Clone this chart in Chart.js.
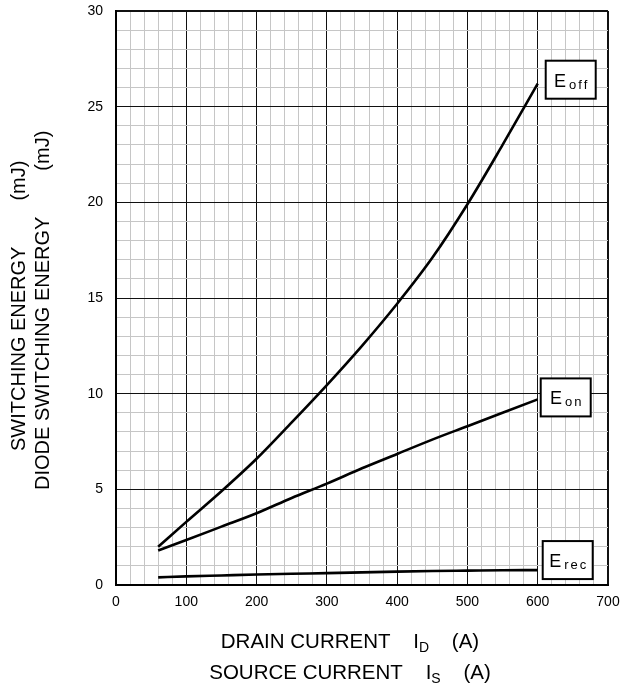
<!DOCTYPE html>
<html>
<head>
<meta charset="utf-8">
<script src="https://cdn.jsdelivr.net/npm/chart.js@4.4.1/dist/chart.umd.min.js"></script>
<style>
  html, body { margin: 0; padding: 0; background: #fff; }
  #wrap { width: 622px; height: 684px; position: relative; }
</style>
</head>
<body>
<div id="wrap"><canvas id="graph"></canvas></div>
<script>
/* dados */
var correnteA = [60, 100, 150, 200, 250, 300, 350, 400, 450, 500, 550, 600];
var eoffMJ = [2.0, 3.3, 4.9, 6.6, 8.5, 10.45, 12.5, 14.7, 17.1, 19.9, 23.0, 26.2];
var eonMJ  = [1.8, 2.35, 3.05, 3.75, 4.55, 5.3, 6.1, 6.85, 7.6, 8.3, 9.0, 9.7];
var erecMJ = [0.4, 0.45, 0.5, 0.55, 0.59, 0.62, 0.66, 0.7, 0.73, 0.75, 0.77, 0.78];
var nomesSerie = ['off', 'on', 'rec'];
var xTicks = [0, 100, 200, 300, 400, 500, 600, 700];
var yTicks = [0, 5, 10, 15, 20, 25, 30];

var FONTE = "'Liberation Sans', Arial, sans-serif";

function pontos(ys) {
  return correnteA.map(function (x, i) { return { x: x, y: ys[i] }; });
}

function serie(ys, nome) {
  return {
    label: nome,
    data: pontos(ys),
    borderColor: '#000',
    borderWidth: 2.6,
    pointRadius: 0,
    cubicInterpolationMode: 'monotone',
    fill: false
  };
}

/* caixas E_off / E_on / E_rec ao lado do fim de cada curva */
var caixas = [
  { dx: 8, dy: -4 },
  { dx: 3, dy: -2 },
  { dx: 5, dy: -10 }
];

var pluginRotulos = {
  id: 'rotulos',
  afterDatasetsDraw: function (chart) {
    var ctx = chart.ctx;
    ctx.save();
    chart.data.datasets.forEach(function (ds, i) {
      var meta = chart.getDatasetMeta(i);
      var ult = meta.data[meta.data.length - 1];
      var bx = ult.x + caixas[i].dx, cy = ult.y + caixas[i].dy;
      var w = 50, h = 38;
      ctx.fillStyle = '#fff';
      ctx.fillRect(bx, cy - h / 2, w, h);
      ctx.strokeStyle = '#000';
      ctx.lineWidth = 2;
      ctx.strokeRect(bx, cy - h / 2, w, h);
      // texto
      ctx.fillStyle = '#000';
      ctx.textBaseline = 'alphabetic';
      ctx.textAlign = 'left';
      ctx.font = '18px ' + FONTE;
      var wE = ctx.measureText('E').width;
      ctx.font = '13px ' + FONTE;
      var sub = ds.label, esp = 2, wSub = 0;
      for (var k = 0; k < sub.length; k++) wSub += ctx.measureText(sub[k]).width + (k ? esp : 0);
      var x0 = bx + (w - (wE + 3 + wSub)) / 2;
      ctx.font = '18px ' + FONTE;
      ctx.fillText('E', x0, cy + 7);
      ctx.font = '13px ' + FONTE;
      var x = x0 + wE + 3;
      for (var k = 0; k < sub.length; k++) {
        ctx.fillText(sub[k], x, cy + 9);
        x += ctx.measureText(sub[k]).width + esp;
      }
    });
    ctx.restore();
  }
};

function textoComSub(ctx, partes, xc, yb, tam, tamSub) {
  var total = 0;
  partes.forEach(function (p) {
    ctx.font = (p.sub ? tamSub : tam) + 'px ' + FONTE;
    total += ctx.measureText(p.t).width;
  });
  var x = xc - total / 2;
  partes.forEach(function (p) {
    ctx.font = (p.sub ? tamSub : tam) + 'px ' + FONTE;
    ctx.fillText(p.t, x, yb + (p.sub ? 4 : 0));
    x += ctx.measureText(p.t).width;
  });
}

// texto rotado, de baixo para cima, com um vão antes da unidade
function textoVertical(ctx, txt, unidade, xb, yIni, vao) {
  ctx.save();
  ctx.translate(xb, yIni);
  ctx.rotate(-Math.PI / 2);
  ctx.fillText(txt, 0, 0);
  ctx.fillText(unidade, ctx.measureText(txt).width + vao, 0);
  ctx.restore();
}

var pluginTitulos = {
  id: 'titulos',
  afterDraw: function (chart) {
    var ctx = chart.ctx;
    ctx.save();
    ctx.fillStyle = '#000';
    ctx.textAlign = 'left';
    ctx.textBaseline = 'alphabetic';
    textoComSub(ctx, [{ t: 'DRAIN CURRENT    I' }, { t: 'D', sub: true }, { t: '    (A)' }], 350, 648, 20.5, 14);
    textoComSub(ctx, [{ t: 'SOURCE CURRENT    I' }, { t: 'S', sub: true }, { t: '    (A)' }], 350, 679, 20.5, 14);
    ctx.font = '20px ' + FONTE;
    textoVertical(ctx, 'SWITCHING ENERGY', '(mJ)', 25, 451, 46);
    textoVertical(ctx, 'DIODE SWITCHING ENERGY', '(mJ)', 48.5, 490, 46);
    ctx.restore();
  }
};

function corGrade(passo) {
  return function (c) {
    return (c.tick.value % passo === 0) ? '#111' : '#c6c6c6';
  };
}

var grafico = new Chart(document.getElementById('graph').getContext('2d'), {
  type: 'line',
  data: {
    datasets: [serie(eoffMJ, nomesSerie[0]), serie(eonMJ, nomesSerie[1]), serie(erecMJ, nomesSerie[2])]
  },
  options: {
    responsive: true,
    maintainAspectRatio: false,
    animation: false,
    layout: { padding: { top: 11, right: 14, left: 0, bottom: 0 } },
    plugins: { legend: { display: false }, tooltip: { enabled: false } },
    scales: {
      x: {
        type: 'linear',
        min: xTicks[0],
        max: xTicks[xTicks.length - 1],
        afterFit: function (s) { s.height = 99; s.paddingLeft = 0; s.paddingRight = 0; },
        ticks: {
          stepSize: 20,
          autoSkip: false,
          maxRotation: 0,
          padding: 9,
          color: '#000',
          font: { family: FONTE, size: 14 },
          callback: function (v) { return xTicks.indexOf(v) >= 0 ? String(v) : ''; }
        },
        grid: {
          drawTicks: false,
          color: corGrade(100),
          lineWidth: function (c) { return c.tick.value === 700 ? 2 : 1; }
        },
        border: { color: '#000', width: 2 }
      },
      y: {
        type: 'linear',
        min: yTicks[0],
        max: yTicks[yTicks.length - 1],
        afterFit: function (s) { s.width = 116; s.paddingTop = 0; s.paddingBottom = 0; },
        ticks: {
          stepSize: 1,
          autoSkip: false,
          padding: 13,
          color: '#000',
          font: { family: FONTE, size: 14 },
          callback: function (v) { return yTicks.indexOf(v) >= 0 ? String(v) : ''; }
        },
        grid: {
          drawTicks: false,
          color: corGrade(5),
          lineWidth: function (c) { return c.tick.value === 30 ? 2 : 1; }
        },
        border: { color: '#000', width: 2 }
      }
    }
  },
  plugins: [pluginRotulos, pluginTitulos]
});
</script>
</body>
</html>
